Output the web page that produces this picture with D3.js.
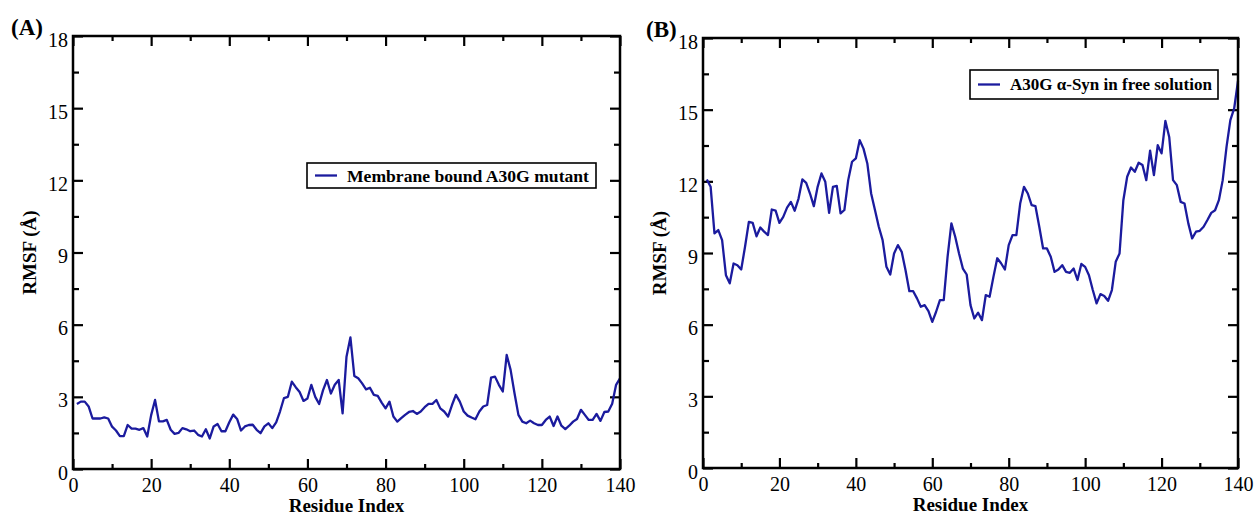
<!DOCTYPE html>
<html>
<head>
<meta charset="utf-8">
<script src="https://cdn.jsdelivr.net/npm/d3@7"></script>
<style>
  body { margin: 0; background: #fff; }
  svg { display: block; font-family: 'Liberation Serif', 'DejaVu Serif', serif; }
  .axis path, .axis line { stroke: #000; }
</style>
</head>
<body>
<svg class="canvas" width="1254" height="516"></svg>
<script>
'use strict';

// residue numbers 1..140
const residues = d3.range(1, 141);

// (A) membrane bound A30G mutant
const rmsfMembrane = [
  2.7, 2.8, 2.8, 2.6, 2.1, 2.1, 2.1, 2.15, 2.1, 1.76,
  1.6, 1.37, 1.37, 1.83, 1.68, 1.68, 1.63, 1.7, 1.35, 2.24,
  2.87, 1.98, 1.98, 2.04, 1.63, 1.46, 1.5, 1.7, 1.65, 1.57,
  1.6, 1.42, 1.35, 1.65, 1.27, 1.77, 1.87, 1.57, 1.57, 1.94,
  2.26, 2.08, 1.6, 1.77, 1.83, 1.84, 1.63, 1.49, 1.77, 1.9,
  1.7, 1.94, 2.4, 2.95, 3.0, 3.63, 3.4, 3.2, 2.83, 2.93,
  3.5, 3.0, 2.7, 3.28, 3.7, 3.14, 3.5, 3.7, 2.31, 4.67,
  5.47, 3.87, 3.77, 3.56, 3.31, 3.38, 3.08, 3.04, 2.76, 2.52,
  2.8, 2.18, 1.97, 2.11, 2.25, 2.37, 2.41, 2.29, 2.39, 2.57,
  2.71, 2.71, 2.87, 2.52, 2.39, 2.18, 2.66, 3.08, 2.8, 2.39,
  2.22, 2.14, 2.07, 2.39, 2.6, 2.66, 3.8, 3.84, 3.5, 3.22,
  4.74, 4.12, 3.15, 2.25, 1.97, 1.9, 2.01, 1.9, 1.83, 1.83,
  2.04, 2.18, 1.79, 2.18, 1.8, 1.66, 1.8, 1.97, 2.08, 2.46,
  2.25, 2.04, 2.04, 2.29, 2.0, 2.37, 2.39, 2.71, 3.5, 3.77
];

// (B) A30G alpha-Syn in free solution
const rmsfFree = [
  12.08, 11.77, 9.82, 9.96, 9.54, 8.07, 7.73, 8.56, 8.49, 8.31,
  9.26, 10.3, 10.26, 9.7, 10.07, 9.89, 9.75, 10.82, 10.77, 10.26,
  10.51, 10.9, 11.14, 10.77, 11.28, 12.08, 11.94, 11.49, 10.96, 11.77,
  12.33, 11.98, 10.68, 11.77, 11.81, 10.66, 10.8, 12.05, 12.82, 12.96,
  13.72, 13.37, 12.75, 11.49, 10.8, 10.1, 9.54, 8.42, 8.1, 8.98,
  9.33, 9.05, 8.28, 7.4, 7.4, 7.1, 6.75, 6.82, 6.57, 6.12,
  6.54, 7.03, 7.03, 8.84, 10.24, 9.68, 8.98, 8.35, 8.1, 6.82,
  6.26, 6.5, 6.19, 7.24, 7.17, 8.0, 8.78, 8.57, 8.31, 9.33,
  9.75, 9.75, 11.07, 11.77, 11.49, 11.0, 10.96, 10.1, 9.19, 9.19,
  8.84, 8.21, 8.31, 8.49, 8.21, 8.17, 8.35, 7.87, 8.54, 8.42,
  8.07, 7.45, 6.89, 7.28, 7.2, 7.0, 7.45, 8.63, 8.98, 11.21,
  12.19, 12.58, 12.4, 12.78, 12.68, 12.05, 13.28, 12.26, 13.51, 13.17,
  14.53, 13.86, 12.05, 11.84, 11.14, 11.07, 10.24, 9.61, 9.89, 9.93,
  10.1, 10.38, 10.68, 10.79, 11.21, 12.05, 13.44, 14.56, 15.05, 16.2
];

const xTicks = [0, 20, 40, 60, 80, 100, 120, 140],
  xMinor = [10, 30, 50, 70, 90, 110, 130],
  yTicks = [0, 3, 6, 9, 12, 15, 18],
  yMinor = [1.5, 4.5, 7.5, 10.5, 13.5, 16.5];

const svg = d3.select('.canvas'),
  serif = "'Liberation Serif', 'Times New Roman', serif",
  lineColor = '#1b1b9e';

const panels = [
  {
    tag: '(A)', tagX: 11, tagY: 35,
    left: 73, top: 36, right: 620, bottom: 469,
    values: rmsfMembrane,
    legend: 'Membrane bound A30G mutant',
    legendBox: { x: 307, y: 163, w: 289, h: 25 },
  },
  {
    tag: '(B)', tagX: 646, tagY: 37,
    left: 703, top: 38, right: 1238, bottom: 468,
    values: rmsfFree,
    legend: 'A30G \u03b1-Syn in free solution',
    legendBox: { x: 970, y: 70, w: 248, h: 29 },
  },
];

function drawPanel(p) {
  const w = p.right - p.left,
    h = p.bottom - p.top,
    x = d3.scaleLinear([0, 140], [0, w]),
    y = d3.scaleLinear([0, 18], [h, 0]);

  const g = svg.append('g').attr('transform', `translate(${p.left},${p.top})`);

  // minor ticks, all four sides, pointing inward
  const minorAxes = [
    [d3.axisBottom(x).tickValues(xMinor), `translate(0,${h})`, -5],
    [d3.axisTop(x).tickValues(xMinor), 'translate(0,0)', -5],
    [d3.axisLeft(y).tickValues(yMinor), 'translate(0,0)', -6],
    [d3.axisRight(y).tickValues(yMinor), `translate(${w},0)`, -6],
  ];
  minorAxes.forEach(([ax, tr, size]) => {
    g.append('g')
      .attr('class', 'axis')
      .attr('transform', tr)
      .call(ax.tickSize(size).tickFormat(''))
      .call(s => s.select('.domain').remove())
      .selectAll('line')
      .attr('stroke-width', 2);
  });

  // major ticks
  const bottomAxis = g.append('g')
    .attr('class', 'axis')
    .attr('transform', `translate(0,${h})`)
    .call(d3.axisBottom(x).tickValues(xTicks).tickSizeInner(-10).tickSizeOuter(0).tickPadding(8));
  const leftAxis = g.append('g')
    .attr('class', 'axis')
    .call(d3.axisLeft(y).tickValues(yTicks).tickSizeInner(-10).tickSizeOuter(0).tickPadding(5));
  g.append('g')
    .attr('class', 'axis')
    .call(d3.axisTop(x).tickValues(xTicks).tickSizeInner(-10).tickSizeOuter(0).tickFormat(''));
  g.append('g')
    .attr('class', 'axis')
    .attr('transform', `translate(${w},0)`)
    .call(d3.axisRight(y).tickValues(yTicks).tickSizeInner(-10).tickSizeOuter(0).tickFormat(''));

  g.selectAll('.axis').attr('font-family', serif).attr('font-size', 20);
  g.selectAll('.axis .tick line').attr('stroke-width', 2.2);
  g.selectAll('.axis .domain').remove();
  leftAxis.selectAll('text').attr('dy', '0.5em');
  bottomAxis.selectAll('text').attr('dy', '0.75em');

  // data line
  const line = d3.line()
    .x((d, i) => x(residues[i]))
    .y(d => y(d));
  g.append('path')
    .datum(p.values)
    .attr('fill', 'none')
    .attr('stroke', lineColor)
    .attr('stroke-width', 2.3)
    .attr('stroke-linejoin', 'round')
    .attr('d', line);

  // frame
  g.append('rect')
    .attr('width', w)
    .attr('height', h)
    .attr('fill', 'none')
    .attr('stroke', '#000')
    .attr('stroke-width', 2.5);

  // axis titles
  g.append('text')
    .attr('x', w / 2)
    .attr('y', h + 43)
    .attr('text-anchor', 'middle')
    .attr('font-family', serif)
    .attr('font-weight', 'bold')
    .attr('font-size', 19)
    .text('Residue Index');
  g.append('text')
    .attr('transform', `translate(${-37},${h / 2}) rotate(-90)`)
    .attr('text-anchor', 'middle')
    .attr('font-family', serif)
    .attr('font-weight', 'bold')
    .attr('font-size', 19)
    .text('RMSF (\u00c5)');

  // panel tag
  svg.append('text')
    .attr('x', p.tagX)
    .attr('y', p.tagY)
    .attr('font-family', serif)
    .attr('font-weight', 'bold')
    .attr('font-size', 23)
    .text(p.tag);

  // legend
  const lb = p.legendBox,
    lg = svg.append('g').attr('transform', `translate(${lb.x},${lb.y})`);
  lg.append('rect')
    .attr('width', lb.w)
    .attr('height', lb.h)
    .attr('fill', '#fff')
    .attr('stroke', '#000')
    .attr('stroke-width', 1.6);
  lg.append('line')
    .attr('x1', 8).attr('x2', 30)
    .attr('y1', lb.h / 2).attr('y2', lb.h / 2)
    .attr('stroke', lineColor)
    .attr('stroke-width', 2.3);
  lg.append('text')
    .attr('x', 40)
    .attr('y', lb.h / 2)
    .attr('dy', '0.35em')
    .attr('font-family', serif)
    .attr('font-weight', 'bold')
    .attr('font-size', p.tag === '(A)' ? 17.6 : 17)
    .text(p.legend);
}

panels.forEach(drawPanel);
</script>
</body>
</html>
